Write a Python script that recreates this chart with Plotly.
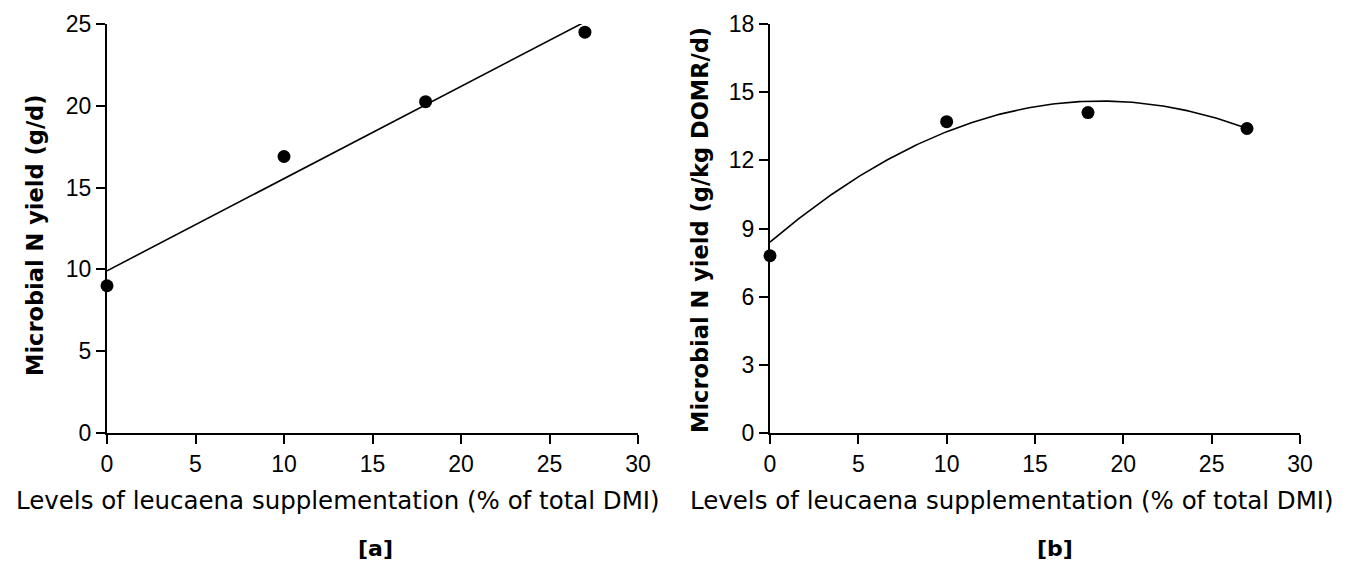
import numpy as np
import plotly.graph_objects as go

# Data
levels_a = [0, 10, 18, 27]
yield_a = [9.0, 16.9, 20.25, 24.5]
levels_b = [0, 10, 18, 27]
yield_b = [7.8, 13.7, 14.1, 13.4]

# Quadratic response curve drawn in panel b (coefficients: c0 + c1*x + c2*x^2)
curve_coef_b = [8.4, 0.663, -0.0177]
curve_range = [0, 27]

x_ticks = [0, 5, 10, 15, 20, 25, 30]
y_ticks_a = [0, 5, 10, 15, 20, 25]
y_ticks_b = [0, 3, 6, 9, 12, 15, 18]

x_title = "Levels of leucaena supplementation (% of total DMI)"
y_title_a = "Microbial N yield (g/d)"
y_title_b = "Microbial N yield (g/kg DOMR/d)"

# Fitted curves (linear regression for a, quadratic response for b)
xf = np.linspace(curve_range[0], curve_range[1], 200)
fit_a = np.polyval(np.polyfit(levels_a, yield_a, 1), xf)
fit_b = np.polyval(curve_coef_b[::-1], xf)

# page body has an 8px margin; figure fills the rest of the window
OFF = 8
W, H = 1351 - 2 * OFF, 575 - 2 * OFF


def px(p):
    return (p - OFF) / W


def py(p):
    return 1 - (p - OFF) / H


fig = go.Figure()

line_style = dict(color="black", width=1.6)
marker_style = dict(color="black", size=13)

fig.add_trace(go.Scatter(x=xf, y=fit_a, mode="lines", line=line_style, xaxis="x", yaxis="y", showlegend=False, hoverinfo="skip"))
fig.add_trace(go.Scatter(x=levels_a, y=yield_a, mode="markers", marker=marker_style, xaxis="x", yaxis="y", showlegend=False, cliponaxis=False))
fig.add_trace(go.Scatter(x=xf, y=fit_b, mode="lines", line=line_style, xaxis="x2", yaxis="y2", showlegend=False, hoverinfo="skip"))
fig.add_trace(go.Scatter(x=levels_b, y=yield_b, mode="markers", marker=marker_style, xaxis="x2", yaxis="y2", showlegend=False, cliponaxis=False))

tick_font = dict(family="Liberation Sans, Arial, sans-serif", size=23, color="black")


def xaxis(domain, anchor):
    return dict(domain=domain, anchor=anchor, range=[0, 30], tickvals=x_ticks,
                showline=True, linecolor="black", linewidth=2, ticks="outside",
                ticklen=9, tickwidth=1.5, tickcolor="black", showgrid=False,
                zeroline=False, tickfont=tick_font, fixedrange=True, automargin=False)


def yaxis(domain, anchor, rng, vals):
    return dict(domain=domain, anchor=anchor, range=rng, tickvals=vals,
                showline=True, linecolor="black", linewidth=2, ticks="outside",
                ticklen=9, tickwidth=1.5, tickcolor="black", showgrid=False,
                zeroline=False, tickfont=tick_font, fixedrange=True, automargin=False)


ydom = [py(433), py(24)]
fig.update_layout(
    width=W, height=H,
    margin=dict(l=0, r=0, t=0, b=0),
    paper_bgcolor="white", plot_bgcolor="white",
    xaxis=xaxis([px(107), px(638)], "y"),
    yaxis=yaxis(ydom, "x", [0, 25], y_ticks_a),
    xaxis2=xaxis([px(770), px(1300)], "y2"),
    yaxis2=yaxis(ydom, "x2", [0, 18], y_ticks_b),
)

title_font = dict(family="DejaVu Sans, sans-serif", size=24.5, color="black")
ytitle_font = dict(family="DejaVu Sans, sans-serif", size=22.5, color="black")
label_font = dict(family="DejaVu Sans, sans-serif", size=22, color="black")
annots = [
    dict(text=x_title, x=px(338), y=py(500), font=title_font),
    dict(text=x_title, x=px(1012), y=py(500), font=title_font),
    dict(text="<b>" + y_title_a + "</b>", x=px(35), y=py(235), textangle=-90, font=ytitle_font),
    dict(text="<b>" + y_title_b + "</b>", x=px(700), y=py(230), textangle=-90, font=ytitle_font),
    dict(text="<b>[a]</b>", x=px(375), y=py(548), font=label_font),
    dict(text="<b>[b]</b>", x=px(1055), y=py(548), font=label_font),
]
for a in annots:
    a.update(xref="paper", yref="paper", showarrow=False, xanchor="center", yanchor="middle")
fig.update_layout(annotations=annots)

fig.write_html("out.html")
